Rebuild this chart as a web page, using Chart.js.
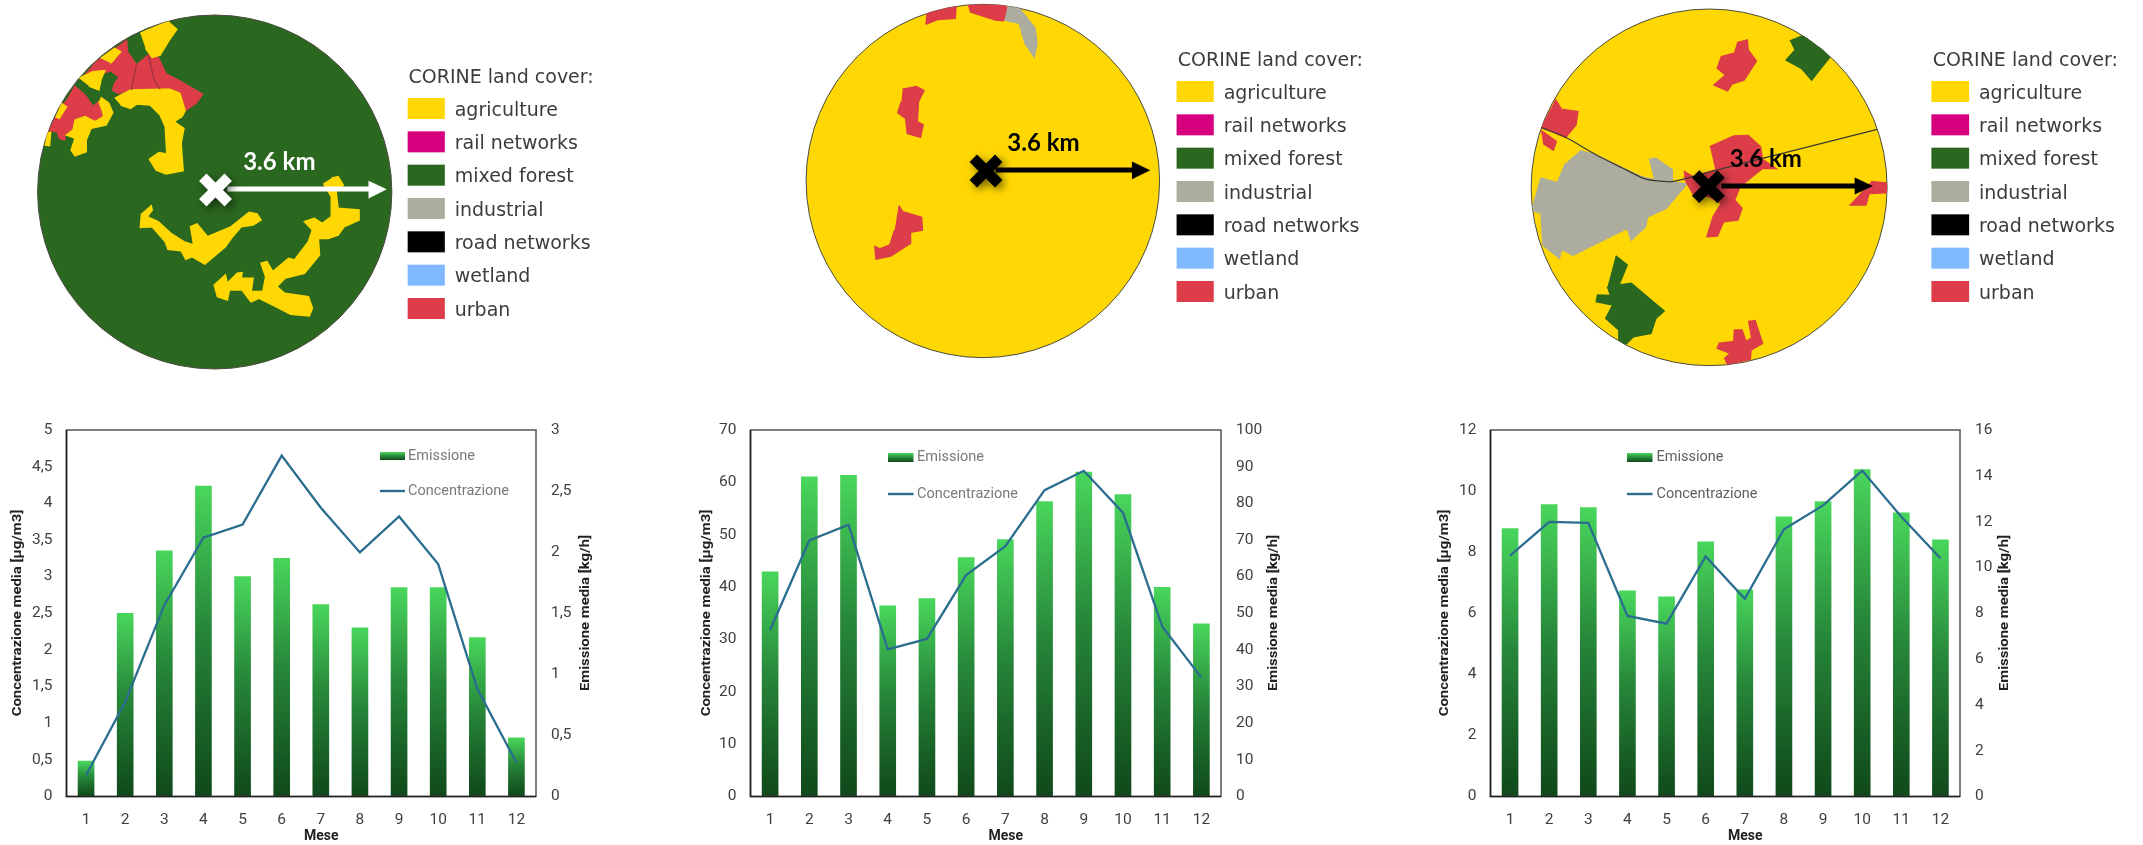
<!DOCTYPE html>
<html><head><meta charset="utf-8">
<script src="https://cdn.jsdelivr.net/npm/chart.js@4"></script>
<style>
html,body{margin:0;padding:0;background:#fff;width:2143px;height:845px;overflow:hidden}
.box{position:absolute}
.box canvas{display:block;filter:blur(0.6px)}
#c3{filter:blur(0.3px)}
</style></head><body>
<div class="box" style="left:0;top:0"><canvas id="m1" width="620" height="390"></canvas></div>
<div class="box" style="left:780px;top:0"><canvas id="m2" width="620" height="390"></canvas></div>
<div class="box" style="left:1500px;top:0"><canvas id="m3" width="643" height="390"></canvas></div>
<div class="box" style="left:0;top:400px"><canvas id="c1" width="640" height="445"></canvas></div>
<div class="box" style="left:680px;top:400px"><canvas id="c2" width="640" height="445"></canvas></div>
<div class="box" style="left:1420px;top:400px"><canvas id="c3" width="640" height="445"></canvas></div>
<script>
// ---- chart data ----
const months = [1,2,3,4,5,6,7,8,9,10,11,12];
const seriesBarName = 'Emissione';
const seriesLineName = 'Concentrazione';
const yTitleLeft = 'Concentrazione media [µg/m3]';
const yTitleRight = 'Emissione media [kg/h]';
const xTitle = 'Mese';

const emissione1 = [0.29,1.50,2.01,2.54,1.80,1.95,1.57,1.38,1.71,1.71,1.30,0.48];
const concentrazione1 = [0.29,1.29,2.61,3.53,3.71,4.65,3.94,3.33,3.82,3.17,1.47,0.46];
const emissione2 = [61.3,87.2,87.6,52.0,54.0,65.2,70.1,80.5,88.5,82.4,57.1,47.1];
const concentrazione2 = [31.8,48.9,51.9,28.1,30.1,42.3,47.8,58.5,62.2,54.2,32.5,22.7];
const emissione3 = [11.70,12.74,12.61,8.98,8.72,11.12,9.02,12.21,12.88,14.27,12.38,11.20];
const concentrazione3 = [7.89,8.99,8.96,5.91,5.66,7.86,6.47,8.75,9.53,10.67,9.16,7.80];

// ---- land cover legend ----
const coverNames = ['agriculture','rail networks','mixed forest','industrial','road networks','wetland','urban'];
const coverColors = ['#ffd803','#d6007f','#2b681f','#adad9f','#000000','#80b9ff','#dc3d49'];
const AGR='#ffd803', FOR='#2b681f', IND='#adad9f', URB='#dc3d49';
const legendTitle = 'CORINE land cover:';
const radiusLabel = '3.6 km';

// ---- map shapes (traced outlines, in map units) ----
const m1Yellow = [
 [[355,100],[425,65],[447,88],[428,120],[405,165],[385,172],[368,145]],
 [[255,175],[290,145],[305,155],[280,190]],
 [[200,235],[235,215],[265,212],[255,240],[250,270],[225,258]],
 [[155,310],[168,320],[150,355],[140,350]],
 [[118,398],[128,398],[125,437],[113,435]],
 [[255,292],[275,310],[285,338],[268,375],[230,385],[218,420],[218,455],[190,467],[180,450],[190,415],[168,405],[185,390],[190,360],[215,350],[240,365],[262,350],[260,335],[250,305]],
 [[290,295],[330,270],[405,268],[430,268],[455,280],[468,332],[460,350],[440,365],[465,385],[458,430],[463,512],[420,522],[395,510],[378,478],[402,458],[422,462],[418,380],[405,345],[380,315],[345,312],[330,325],[305,315]],
 [[382,615],[385,630],[372,650],[400,665],[432,700],[465,725],[490,735],[482,680],[498,672],[525,710],[585,680],[630,637],[650,642],[660,660],[640,675],[610,680],[585,715],[570,740],[518,792],[485,770],[470,778],[458,752],[425,748],[418,725],[385,680],[355,682],[358,640]],
 [[838,535],[855,530],[868,555],[850,575],[855,625],[908,630],[908,660],[870,680],[855,705],[830,715],[805,715],[808,765],[770,820],[720,835],[700,860],[720,880],[780,890],[790,925],[782,948],[735,943],[690,915],[655,895],[635,905],[612,870],[580,870],[575,900],[550,890],[542,855],[570,825],[575,850],[600,820],[612,818],[610,835],[640,835],[635,875],[665,875],[672,830],[660,790],[675,785],[690,815],[730,775],[745,780],[780,725],[790,690],[770,665],[795,655],[815,670],[838,650],[838,590],[818,550]]
];
const m1Urban = [
 [[320,120],[322,155],[345,195],[375,165],[400,172],[420,222],[450,240],[512,283],[495,310],[468,332],[455,280],[430,268],[405,268],[330,270],[300,280],[285,270],[290,250],[302,232],[280,212],[255,222],[215,225],[245,185],[290,145]],
 [[188,258],[215,285],[235,320],[250,305],[260,335],[262,350],[240,365],[215,350],[190,360],[185,390],[165,400],[163,420],[150,415],[145,395],[125,392],[140,355],[165,305]]
];
const m1Borders = [
 [[345,195],[332,270]],
 [[375,165],[390,240],[405,268]],
 [[290,130],[320,120]]
];
const m2Urban = [
 [[370,38],[445,18],[443,55],[400,58],[368,73]],
 [[475,15],[580,15],[565,62],[545,60],[480,35]],
 [[310,268],[345,260],[364,272],[350,305],[347,365],[362,375],[355,412],[322,400],[318,355],[298,338],[307,305]],
 [[300,617],[310,635],[358,652],[360,690],[330,697],[330,730],[280,768],[243,777],[240,740],[252,747],[278,735],[290,690]]
];
const m2Industrial = [
 [[575,20],[605,25],[645,85],[650,130],[643,170],[620,130],[605,70],[568,60]]
];
const m3Urban = [
 [[578,128],[603,120],[605,150],[625,183],[595,240],[565,252],[555,272],[522,255],[550,225],[530,205],[540,170],[570,160]],
 [[135,298],[150,328],[190,335],[185,375],[160,412],[100,382]],
 [[100,392],[115,405],[137,425],[130,450],[105,430]],
 [[512,440],[570,408],[605,407],[635,440],[640,478],[672,505],[640,505],[585,560],[572,600],[590,625],[580,660],[545,665],[530,708],[505,710],[520,650],[540,610],[510,590],[470,580],[452,540],[450,515],[470,530],[525,510]],
 [[905,545],[945,550],[942,578],[900,580],[892,615],[852,615]],
 [[605,965],[622,962],[640,1030],[612,1050],[610,1078],[555,1092],[548,1075],[562,1060],[530,1045],[535,1030],[570,1025],[572,990],[590,990],[600,1025],[612,1015]]
];
const m3Forest = [
 [[738,105],[770,130],[805,170],[760,240],[735,205],[698,180],[720,150],[708,120]],
 [[282,768],[310,795],[290,855],[320,850],[400,933],[380,955],[368,1000],[325,1010],[305,1035],[290,1020],[290,990],[258,955],[275,915],[235,905],[238,885],[270,887],[262,860]]
];
const m3Industrial = [
 [[195,452],[235,465],[300,505],[345,530],[378,540],[365,478],[380,475],[420,510],[420,545],[455,552],[405,625],[360,650],[355,680],[320,720],[310,685],[178,765],[150,748],[145,775],[105,735],[100,640],[78,630],[100,535],[140,548],[160,490]]
];
const m3Road = [[100,382],[160,412],[235,465],[300,505],[350,535],[378,542],[420,545],[470,530],[530,510],[640,475],[920,388]];

const xy = a => a.map(p => ({x:p[0], y:p[1]}));
const poly = (a,c,w) => ({data:xy(a), showLine:true, fill:'shape', backgroundColor:c, borderColor:c, borderWidth:w, pointRadius:0, tension:0});

function buildMap(id, cfg){
  const W = 1568, H = 1170;
  const ds = [];
  cfg.layers.forEach(l => l[0].forEach(s => ds.push(poly(s,l[1],1.6))));
  (cfg.borders||[]).forEach(b => ds.push({data:xy(b), showLine:true, fill:false, borderColor:'#8a3038', borderWidth:1, pointRadius:0, tension:0}));
  if (cfg.road) ds.push({data:xy(cfg.road), showLine:true, fill:false, borderColor:'#3a3a30', borderWidth:1.2, pointRadius:0, tension:0.25});
  ds.push({data:xy(cfg.shaft), showLine:true, fill:false, borderColor:cfg.mark, borderWidth:5, pointRadius:0, tension:0});
  ds.push(poly(cfg.head, cfg.mark, 0.5));
  ds.push({data:xy([cfg.cross]), pointStyle:'crossRot', pointRadius:18, pointBorderWidth:10.5, pointBorderColor:cfg.mark, pointBackgroundColor:cfg.mark, isCross:true});
  ds.forEach((d,i)=>{ d.order = ds.length - i; });
  const plugin = {
    id:'mapLayer',
    beforeDatasetsDraw(ch){
      const c = ch.ctx, sx = ch.scales.x, sy = ch.scales.y;
      const px = sx.getPixelForValue(cfg.disc[0]), py = sy.getPixelForValue(cfg.disc[1]);
      const rx = sx.getPixelForValue(cfg.disc[0]+cfg.disc[2]) - px, ry = sy.getPixelForValue(cfg.disc[1]+cfg.disc[3]) - py;
      c.save();
      c.beginPath(); c.ellipse(px,py,rx,ry,0,0,Math.PI*2);
      c.fillStyle = cfg.base; c.fill();
      c.save(); c.lineWidth=1; c.strokeStyle='#4a4a40'; c.stroke(); c.restore();
      c.clip();
    },
    beforeDatasetDraw(ch,args){
      if (ch.data.datasets[args.index].isCross){
        const c=ch.ctx; c.save();
        c.shadowColor='rgba(0,0,0,0.55)'; c.shadowBlur=9; c.shadowOffsetX=3; c.shadowOffsetY=3;
      }
    },
    afterDatasetDraw(ch,args){
      if (ch.data.datasets[args.index].isCross) ch.ctx.restore();
    },
    afterDatasetsDraw(ch){
      const c = ch.ctx, sx = ch.scales.x, sy = ch.scales.y;
      c.restore();
      const X = v => sx.getPixelForValue(v), Y = v => sy.getPixelForValue(v);
      c.save();
      c.textBaseline='middle'; c.textAlign='left';
      c.font='bold 24px Lato';
      c.fillStyle=cfg.mark;
      c.fillText(radiusLabel, X(cfg.label[0]), Y(cfg.label[1]));
      c.font='19px "DejaVu Sans"';
      c.fillStyle='#3c3c3c';
      c.fillText(legendTitle, X(cfg.lg.title[0]), Y(cfg.lg.title[1]));
      coverNames.forEach((n,k)=>{
        const top = cfg.lg.swTop + 100*k;
        c.fillStyle = coverColors[k];
        c.fillRect(X(cfg.lg.sw[0]), Y(top), X(cfg.lg.sw[1])-X(cfg.lg.sw[0]), Y(top+63)-Y(top));
        c.fillStyle='#3c3c3c';
        c.fillText(n, X(cfg.lg.text), Y(top+38));
      });
      c.restore();
    }
  };
  new Chart(document.getElementById(id), {
    type:'scatter',
    data:{datasets:ds},
    options:{
      responsive:false, animation:false, layout:{padding:0, autoPadding:false},
      plugins:{legend:{display:false}, tooltip:{enabled:false}},
      scales:{
        x:{type:'linear',display:false,min:0,max:W},
        y:{type:'linear',display:false,min:0,max:H,reverse:true}
      }
    },
    plugins:[plugin]
  });
}

buildMap('m1',{
  disc:[543,576,448,531], base:FOR, mark:'#ffffff',
  layers:[[m1Urban,URB],[m1Yellow,AGR]],
  borders:m1Borders,
  shaft:[[575,567],[940,567]], head:[[932,543],[977,568],[932,595]], cross:[545,570],
  label:[615,487],
  lg:{title:[1033,235], sw:[1031,1125], swTop:294, text:1150}
});
buildMap('m2',{
  disc:[513,543,447,530], base:AGR, mark:'#000000',
  layers:[[m2Urban,URB],[m2Industrial,IND]],
  shaft:[[545,510],[895,510]], head:[[890,485],[935,511],[890,537]], cross:[521,513],
  label:[575,430],
  lg:{title:[1006,183], sw:[1003,1097], swTop:243, text:1122}
});
buildMap('m3',{
  disc:[510,562,434,535], base:AGR, mark:'#000000',
  layers:[[m3Industrial,IND],[m3Urban,URB],[m3Forest,FOR]],
  road:m3Road,
  shaft:[[540,558],[870,558]], head:[[865,533],[908,558],[865,583]], cross:[508,560],
  label:[560,477],
  lg:{title:[1055,183], sw:[1052,1144], swTop:243, text:1168}
});

// ---- bar + line charts ----
const fmt = v => String(v).replace('.',',');
const NARROW = '"Liberation Sans Narrow", Roboto, sans-serif';
function barGradient(ctx){
  const ch = ctx.chart, s = ch.scales.yR;
  if (!ctx.parsed || !s) return '#27883a';
  const top = s.getPixelForValue(ctx.parsed.y), base = s.getPixelForValue(0);
  if (!isFinite(top) || !isFinite(base)) return '#27883a';
  const g = ch.ctx.createLinearGradient(0,top,0,base);
  g.addColorStop(0,'#49d65c'); g.addColorStop(0.45,'#27883a'); g.addColorStop(0.75,'#1a6428'); g.addColorStop(1,'#10491b');
  return g;
}
function vText(c,text,x,y){
  c.save(); c.translate(x,y); c.rotate(-Math.PI/2); c.scale(1.24,1);
  c.fillText(text,0,0); c.restore();
}
function buildChart(id,cfg){
  const plugin = {
    id:'frameLegend',
    afterDraw(ch){
      const c = ch.ctx, a = ch.chartArea;
      c.save();
      c.strokeStyle='#555'; c.lineWidth=1.5;
      c.strokeRect(a.left,a.top,a.right-a.left,a.bottom-a.top);
      c.strokeStyle='#222'; c.lineWidth=1.6;
      c.beginPath(); c.moveTo(a.left,a.top); c.lineTo(a.left,a.bottom); c.lineTo(a.right,a.bottom); c.stroke();
      const L = cfg.lg;
      const g = c.createLinearGradient(0,L.y1,0,L.y2);
      g.addColorStop(0,'#49d65c'); g.addColorStop(0.5,'#27883a'); g.addColorStop(1,'#10491b');
      c.fillStyle=g; c.fillRect(L.x1,L.y1,L.x2-L.x1,L.y2-L.y1);
      c.strokeStyle='#2a6d8f'; c.lineWidth=2.4;
      c.beginPath(); c.moveTo(L.x1,L.ly); c.lineTo(L.x2,L.ly); c.stroke();
      c.font='14.5px '+NARROW; c.fillStyle=cfg.lgColor; c.textBaseline='middle'; c.textAlign='left';
      c.fillText(seriesBarName,L.tx,(L.y1+L.y2)/2);
      c.fillText(seriesLineName,L.tx,L.ly);
      c.fillStyle='#222'; c.textAlign='center';
      c.font='bold 12px Roboto';
      vText(c,yTitleLeft,cfg.tL,213);
      vText(c,yTitleRight,cfg.tR,213);
      c.font='bold 14px Roboto';
      c.fillText(xTitle,(a.left+a.right)/2+20,436.7);
      c.restore();
    }
  };
  const tickFont = {family:NARROW,size:15.5};
  new Chart(document.getElementById(id),{
    data:{labels:months,datasets:[
      {type:'line',label:seriesLineName,data:cfg.line,yAxisID:'yL',borderColor:'#2a6d8f',borderWidth:2.3,pointRadius:0,tension:0,order:1},
      {type:'bar',label:seriesBarName,data:cfg.bar,yAxisID:'yR',backgroundColor:barGradient,barThickness:16,order:2}
    ]},
    options:{
      responsive:false,animation:false,
      layout:{padding:{left:0,right:0,top:30,bottom:0},autoPadding:false},
      plugins:{legend:{display:false},tooltip:{enabled:false}},
      scales:{
        x:{type:'category',grid:{display:false,drawTicks:false},border:{display:false},
           ticks:{font:tickFont,color:'#404040',padding:14,maxRotation:0},
           afterFit(s){s.height=48.5;}},
        yL:{type:'linear',position:'left',min:0,max:cfg.lMax,grid:{display:false,drawTicks:false},border:{display:false},
           ticks:{stepSize:cfg.lStep,font:tickFont,color:'#404040',padding:14,callback:fmt},
           afterFit(s){s.width=cfg.plotL;}},
        yR:{type:'linear',position:'right',min:0,max:cfg.rMax,grid:{display:false,drawOnChartArea:false,drawTicks:false},border:{display:false},
           ticks:{stepSize:cfg.rStep,font:tickFont,color:'#404040',padding:15,callback:fmt},
           afterFit(s){s.width=640-cfg.plotR;}}
      }
    },
    plugins:[plugin]
  });
}
buildChart('c1',{bar:emissione1,line:concentrazione1,lMax:5,lStep:0.5,rMax:3,rStep:0.5,
  plotL:66.5,plotR:536,tL:17.5,tR:585.7,lgColor:'#7a7a7a',
  lg:{x1:380,x2:405,y1:52,y2:60,ly:91,tx:408}});
buildChart('c2',{bar:emissione2,line:concentrazione2,lMax:70,lStep:10,rMax:100,rStep:10,
  plotL:70.5,plotR:541,tL:26.5,tR:594,lgColor:'#7a7a7a',
  lg:{x1:208,x2:233.5,y1:53,y2:62,ly:94,tx:237}});
buildChart('c3',{bar:emissione3,line:concentrazione3,lMax:12,lStep:2,rMax:16,rStep:2,
  plotL:70.5,plotR:540,tL:25.3,tR:585,lgColor:'#5f5f5f',
  lg:{x1:207,x2:232.5,y1:53,y2:62,ly:94,tx:236.5}});
</script>
</body></html>
